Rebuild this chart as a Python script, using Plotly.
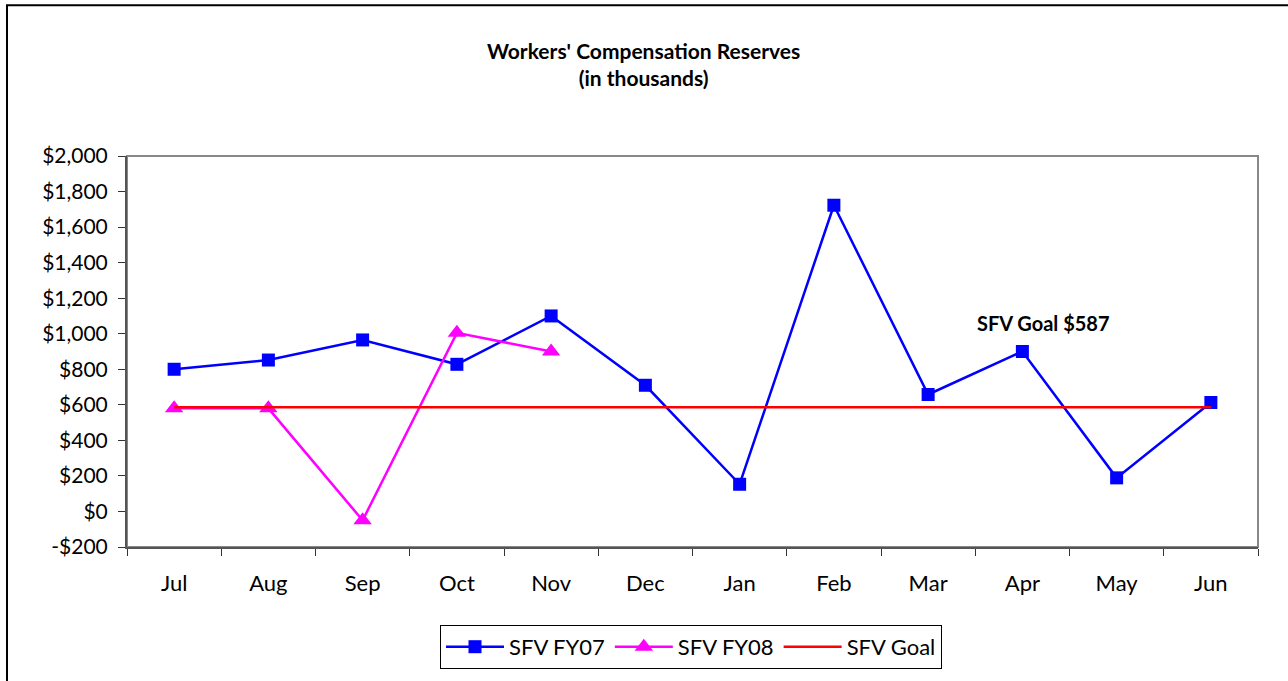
import plotly.graph_objects as go

months = ["Jul", "Aug", "Sep", "Oct", "Nov", "Dec", "Jan", "Feb", "Mar", "Apr", "May", "Jun"]
fy07 = [800, 852, 965, 828, 1100, 710, 153, 1723, 658, 900, 189, 613]
fy08 = [580, 580, -50, 1005, 900]
goal_value = 587
goal = [goal_value] * len(months)
y_ticks = list(range(-200, 2001, 200))
y_tick_labels = [("-$" if v < 0 else "$") + f"{abs(v):,}" for v in y_ticks]

FONT = "Lato"

# pixel layout helpers
W, H = 1288, 681
L, R, T, B = 127, 1258, 155.5, 547

def px(xp):
    return (xp - L) / (R - L)

def py(yp):
    return (B - yp) / (B - T)

fig = go.Figure()
fig.add_trace(go.Scatter(
    x=months, y=fy07, name="SFV FY07", mode="lines+markers",
    line=dict(color="#0000FF", width=2.5),
    marker=dict(symbol="square", size=13, color="#0000FF"),
))
fig.add_trace(go.Scatter(
    x=months[:len(fy08)], y=fy08, name="SFV FY08", mode="lines+markers",
    line=dict(color="#FF00FF", width=2.5),
    marker=dict(symbol="triangle-up", size=16, color="#FF00FF"),
))
fig.add_trace(go.Scatter(
    x=months, y=goal, name="SFV Goal", mode="lines",
    line=dict(color="#FF0000", width=2.5),
))

fig.update_layout(
    width=W, height=H,
    margin=dict(l=L, r=W - R, t=T, b=H - B, pad=0),
    paper_bgcolor="white", plot_bgcolor="white",
    font=dict(family=FONT, size=20, color="black"),
    showlegend=True,
    legend=dict(
        orientation="h", x=px(691), xanchor="center", y=py(625), yanchor="top",
        bordercolor="black", borderwidth=1, font=dict(size=22, family=FONT),
        itemwidth=58, tracegroupgap=0,
    ),
    xaxis=dict(
        type="category", range=[-0.5, 11.5], showgrid=False,
        showline=True, linecolor="#555555", linewidth=2,
        ticks="outside", tickson="boundaries", ticklen=7, tickcolor="#333333",
        tickfont=dict(size=22), ticklabelstandoff=16, fixedrange=True,
    ),
    yaxis=dict(
        range=[-200, 2000], tickvals=y_ticks, ticktext=y_tick_labels,
        showgrid=False, zeroline=False,
        showline=True, linecolor="#555555", linewidth=2,
        ticks="outside", ticklen=7, tickcolor="#333333",
        tickfont=dict(size=21), ticklabelstandoff=6,
    ),
    shapes=[
        # plot area border
        dict(type="rect", xref="paper", yref="paper", x0=0, x1=1, y0=0, y1=1,
             line=dict(color="#888888", width=2), layer="below"),
        # outer chart frame (cropped at right/bottom)
        dict(type="rect", xref="paper", yref="paper",
             x0=px(7), x1=px(1300), y0=py(700), y1=py(4.5),
             line=dict(color="black", width=2)),
    ],
    annotations=[
        dict(text="Workers' Compensation Reserves<br>(in thousands)",
             xref="paper", yref="paper", x=px(643), y=py(63),
             xanchor="center", yanchor="middle", showarrow=False,
             font=dict(size=21, family=FONT, color="black", weight="bold")),
        dict(text="SFV Goal $587", xref="paper", yref="paper",
             x=px(1043), y=py(323), xanchor="center", yanchor="middle",
             showarrow=False,
             font=dict(size=20, family=FONT, color="black", weight="bold")),
    ],
)

fig.write_html("out.html", config={"displayModeBar": False},
               post_script="document.body.style.margin='0px';")
